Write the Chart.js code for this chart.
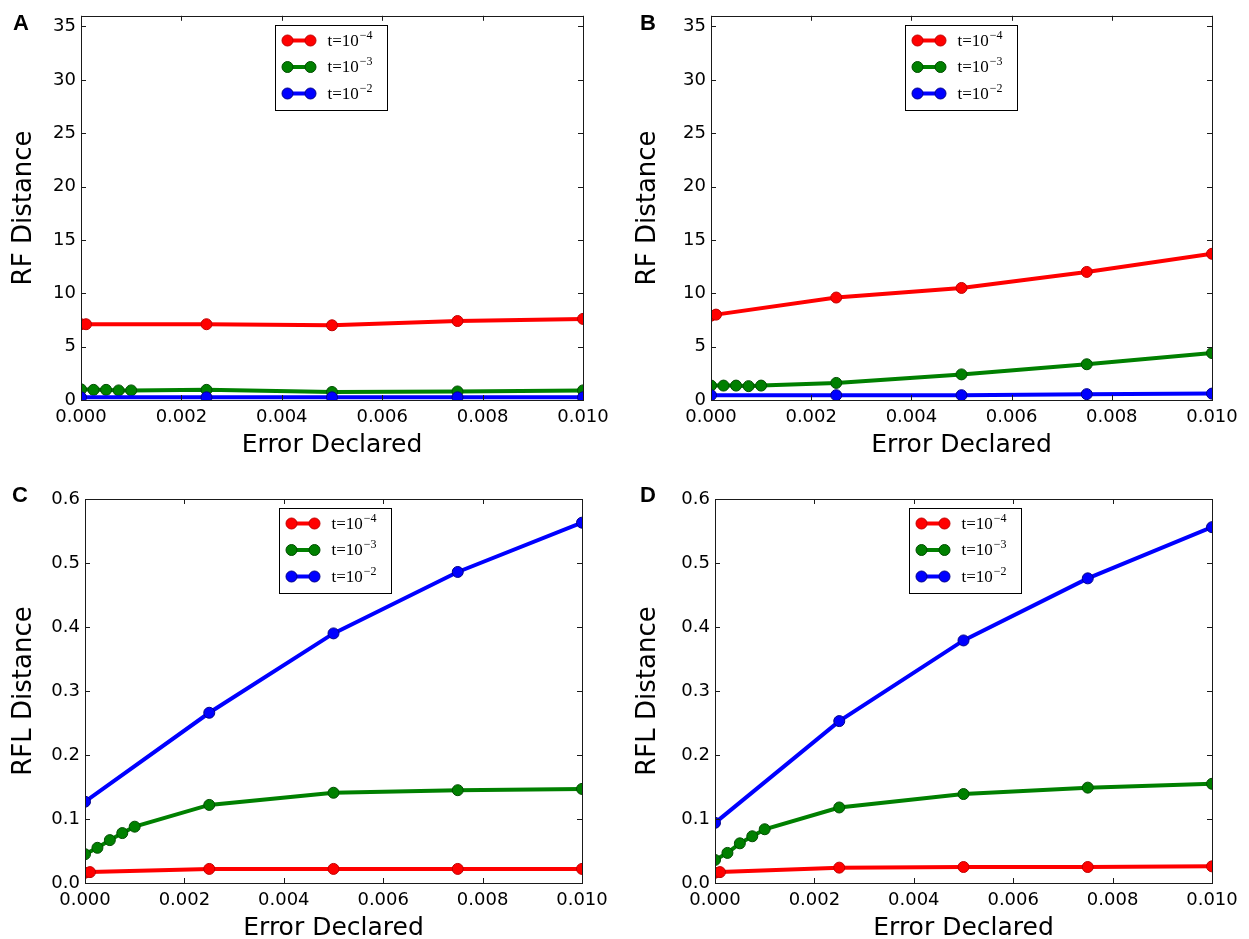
<!DOCTYPE html>
<html>
<head>
<meta charset="utf-8">
<script src="https://cdn.jsdelivr.net/npm/chart.js@4.4.1/dist/chart.umd.min.js"></script>
<style>
  html, body { margin: 0; padding: 0; background: #fff; }
  body { width: 1249px; height: 939px; position: relative; overflow: hidden; }
  .panel { position: absolute; }
  .letter { position: absolute; font-family: "Liberation Sans", Arial, sans-serif; font-weight: bold; font-size: 22px; line-height: 22px; color: #000; }
</style>
</head>
<body>
<div class="panel" style="left:0px;top:0px;width:624px;height:470px;"><canvas id="cA" width="624" height="470"></canvas></div>
<div class="panel" style="left:624px;top:0px;width:625px;height:470px;"><canvas id="cB" width="625" height="470"></canvas></div>
<div class="panel" style="left:0px;top:470px;width:624px;height:469px;"><canvas id="cC" width="624" height="469"></canvas></div>
<div class="panel" style="left:624px;top:470px;width:625px;height:469px;"><canvas id="cD" width="625" height="469"></canvas></div>
<div class="letter" style="left:13px;top:12px;">A</div>
<div class="letter" style="left:640px;top:12px;">B</div>
<div class="letter" style="left:12px;top:484px;">C</div>
<div class="letter" style="left:640px;top:484px;">D</div>
<script>
// ---------------- data ----------------
const seriesLabels = ['t=10^-4', 't=10^-3', 't=10^-2'];
const seriesColors = ['#ff0000', '#008000', '#0000ff'];
const seriesEdge = ['#c00000', '#004d00', '#00008a'];

const errT4 = [0, 0.0001, 0.0025, 0.005, 0.0075, 0.01];
const errT3 = [0, 0.00025, 0.0005, 0.00075, 0.001, 0.0025, 0.005, 0.0075, 0.01];
const errT2 = [0, 0.0025, 0.005, 0.0075, 0.01];

// Panel A: RF Distance
const rfA_t4 = [7.1, 7.1, 7.1, 7.0, 7.4, 7.6];
const rfA_t3 = [1.0, 0.95, 0.95, 0.9, 0.9, 0.95, 0.75, 0.8, 0.9];
const rfA_t2 = [0.25, 0.25, 0.25, 0.25, 0.25];

// Panel B: RF Distance
const rfB_t4 = [7.9, 8.0, 9.6, 10.5, 12.0, 13.7];
const rfB_t3 = [1.35, 1.35, 1.35, 1.3, 1.35, 1.6, 2.4, 3.35, 4.4];
const rfB_t2 = [0.45, 0.45, 0.45, 0.55, 0.6];

// Panel C: RFL Distance
const rflC_t4 = [0.016, 0.017, 0.022, 0.022, 0.022, 0.022];
const rflC_t3 = [0.045, 0.055, 0.067, 0.078, 0.088, 0.122, 0.141, 0.145, 0.147];
const rflC_t2 = [0.127, 0.266, 0.39, 0.486, 0.563];

// Panel D: RFL Distance
const rflD_t4 = [0.016, 0.017, 0.024, 0.025, 0.025, 0.026];
const rflD_t3 = [0.036, 0.047, 0.062, 0.073, 0.084, 0.118, 0.139, 0.149, 0.155];
const rflD_t2 = [0.094, 0.253, 0.379, 0.476, 0.556];

const xTickValues = [0, 0.002, 0.004, 0.006, 0.008, 0.010];
const xTickLabels = ['0.000', '0.002', '0.004', '0.006', '0.008', '0.010'];
const rfTickValues = [0, 5, 10, 15, 20, 25, 30, 35];
const rfTickLabels = ['0', '5', '10', '15', '20', '25', '30', '35'];
const rflTickValues = [0, 0.1, 0.2, 0.3, 0.4, 0.5, 0.6];
const rflTickLabels = ['0.0', '0.1', '0.2', '0.3', '0.4', '0.5', '0.6'];

const xTitle = 'Error Declared';
const rfTitle = 'RF Distance';
const rflTitle = 'RFL Distance';

// ---------------- helpers ----------------
function pts(xs, ys) { return xs.map((x, i) => ({ x: x, y: ys[i] })); }

const frameTicksLegend = {
  id: 'frameTicksLegend',
  afterDatasetsDraw(chart) {
    const ctx = chart.ctx;
    const a = chart.chartArea;
    const xs = chart.scales.x, ys = chart.scales.y;
    ctx.save();
    ctx.strokeStyle = '#1a1a1a';
    ctx.lineWidth = 1;
    // inward ticks
    ctx.beginPath();
    xs.ticks.forEach(t => {
      const px = Math.round(xs.getPixelForValue(t.value)) + 0.5;
      ctx.moveTo(px, a.bottom); ctx.lineTo(px, a.bottom - 5);
      ctx.moveTo(px, a.top); ctx.lineTo(px, a.top + 5);
    });
    ys.ticks.forEach(t => {
      const py = Math.round(ys.getPixelForValue(t.value)) + 0.5;
      ctx.moveTo(a.left, py); ctx.lineTo(a.left + 5, py);
      ctx.moveTo(a.right, py); ctx.lineTo(a.right - 5, py);
    });
    ctx.stroke();
    // frame
    ctx.strokeRect(Math.round(a.left) + 0.5, Math.round(a.top) + 0.5,
                   Math.round(a.right - a.left), Math.round(a.bottom - a.top));
    // legend
    const bx = Math.round(a.left) + 194.5, by = Math.round(a.top) + 9.5, bw = 112, bh = 85;
    ctx.fillStyle = '#fff';
    ctx.fillRect(bx, by, bw, bh);
    ctx.strokeStyle = '#000';
    ctx.strokeRect(bx, by, bw, bh);
    [0, 1, 2].forEach((k, row) => {
      const ds = chart.data.datasets[k];
      const cy = by + 15 + row * 26.5;
      ctx.strokeStyle = ds.borderColor;
      ctx.lineWidth = 4;
      ctx.beginPath();
      ctx.moveTo(bx + 12, cy); ctx.lineTo(bx + 35, cy);
      ctx.stroke();
      [bx + 12, bx + 35].forEach(mx => {
        ctx.beginPath();
        ctx.arc(mx, cy, 5.5, 0, Math.PI * 2);
        ctx.fillStyle = ds.pointBackgroundColor;
        ctx.fill();
        ctx.lineWidth = 1;
        ctx.strokeStyle = ds.pointBorderColor;
        ctx.stroke();
      });
      const parts = ds.label.split('^');
      ctx.fillStyle = '#000';
      ctx.textBaseline = 'middle';
      ctx.textAlign = 'left';
      ctx.font = '17px "Liberation Serif", "DejaVu Serif", serif';
      const tx = bx + 52;
      ctx.fillText(parts[0], tx, cy + 1);
      const w = ctx.measureText(parts[0]).width;
      ctx.font = '12px "Liberation Serif", "DejaVu Serif", serif';
      ctx.fillText(parts[1].replace('-', '\u2212'), tx + w + 1, cy - 5);
    });
    ctx.restore();
  }
};

function makeChart(id, dataT4, dataT3, dataT2, yTicks, yLabels, yMax, yTitle, geom) {
  const raw = [dataT4, dataT3, dataT2];
  const xsets = [errT4, errT3, errT2];
  const datasets = raw.map((d, k) => ({
    label: seriesLabels[k],
    data: pts(xsets[k], d),
    borderColor: seriesColors[k],
    backgroundColor: seriesColors[k],
    pointBackgroundColor: seriesColors[k],
    pointBorderColor: seriesEdge[k],
    pointBorderWidth: 1,
    pointRadius: 5.5,
    borderWidth: 4,
    tension: 0,
    clip: 0,
    order: 3 - k
  }));
  return new Chart(document.getElementById(id), {
    type: 'line',
    data: { datasets: datasets },
    options: {
      responsive: false,
      animation: false,
      devicePixelRatio: 1,
      layout: { padding: { top: geom.top, right: geom.right, bottom: 0, left: 0 } },
      plugins: { legend: { display: false }, title: { display: false }, tooltip: { enabled: false } },
      scales: {
        x: {
          type: 'linear', min: 0, max: 0.01,
          grid: { display: false, drawTicks: false },
          border: { display: false },
          afterBuildTicks: s => { s.ticks = xTickValues.map(v => ({ value: v })); },
          afterFit: s => { s.height = geom.xh; },
          ticks: {
            padding: 7, color: '#000', maxRotation: 0, autoSkip: false,
            font: { family: 'DejaVu Sans', size: 18 },
            callback: (v, i) => xTickLabels[i]
          },
          title: {
            display: true, text: xTitle, color: '#000',
            font: { family: 'DejaVu Sans', size: 25, lineHeight: 1 },
            padding: { top: 0, bottom: geom.xtb }
          }
        },
        y: {
          type: 'linear', min: 0, max: yMax,
          grid: { display: false, drawTicks: false },
          border: { display: false },
          afterBuildTicks: s => { s.ticks = yTicks.map(v => ({ value: v })); },
          afterFit: s => { s.width = geom.yw; },
          ticks: {
            padding: 5, color: '#000', autoSkip: false,
            font: { family: 'DejaVu Sans', size: 18 },
            callback: (v, i) => yLabels[i]
          },
          title: {
            display: true, text: yTitle, color: '#000',
            font: { family: 'DejaVu Sans', size: 26, lineHeight: 1 },
            padding: { top: 11, bottom: 0 }
          }
        }
      }
    },
    plugins: [frameTicksLegend]
  });
}

makeChart('cA', rfA_t4, rfA_t3, rfA_t2, rfTickValues, rfTickLabels, 36, rfTitle,
  { top: 13, right: 41, xh: 70, yw: 81, xtb: 12 });
makeChart('cB', rfB_t4, rfB_t3, rfB_t2, rfTickValues, rfTickLabels, 36, rfTitle,
  { top: 13, right: 37, xh: 70, yw: 87, xtb: 12 });
makeChart('cC', rflC_t4, rflC_t3, rflC_t2, rflTickValues, rflTickLabels, 0.6, rflTitle,
  { top: 29, right: 42, xh: 56, yw: 85, xtb: -2 });
makeChart('cD', rflD_t4, rflD_t3, rflD_t2, rflTickValues, rflTickLabels, 0.6, rflTitle,
  { top: 29, right: 37, xh: 56, yw: 91, xtb: -2 });
</script>
</body>
</html>
